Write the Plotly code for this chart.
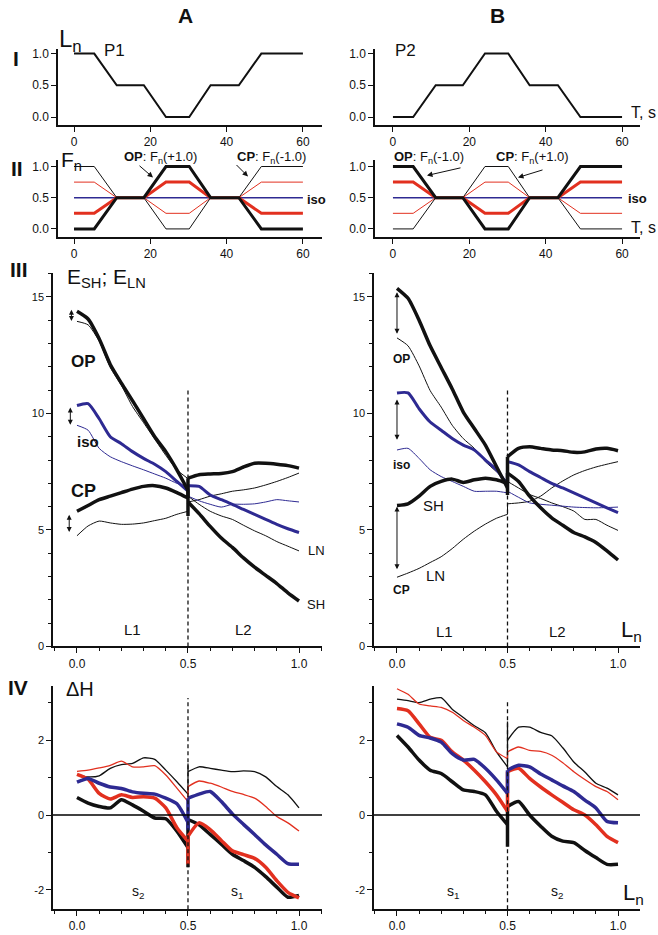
import plotly.graph_objects as go

# ---------------- data ----------------
T = [0, 5.3, 11.2, 18.3, 24.1, 30.2, 35.8, 43.2, 49.1, 60]
P1 = [1, 1, 0.5, 0.5, 0, 0, 0.5, 0.5, 1, 1]
P2 = [0, 0, 0.5, 0.5, 1, 1, 0.5, 0.5, 0, 0]

FA_thick_black = [0, 0, 0.5, 0.5, 1, 1, 0.5, 0.5, 0, 0]
FA_thin_black = [1, 1, 0.5, 0.5, 0, 0, 0.5, 0.5, 1, 1]
FA_thick_red = [0.25, 0.25, 0.5, 0.5, 0.75, 0.75, 0.5, 0.5, 0.25, 0.25]
FA_thin_red = [0.75, 0.75, 0.5, 0.5, 0.25, 0.25, 0.5, 0.5, 0.75, 0.75]
FB_thick_black = [1, 1, 0.5, 0.5, 0, 0, 0.5, 0.5, 1, 1]
FB_thin_black = [0, 0, 0.5, 0.5, 1, 1, 0.5, 0.5, 0, 0]
FB_thick_red = [0.75, 0.75, 0.5, 0.5, 0.25, 0.25, 0.5, 0.5, 0.75, 0.75]
FB_thin_red = [0.25, 0.25, 0.5, 0.5, 0.75, 0.75, 0.5, 0.5, 0.25, 0.25]
F_iso = [0.5, 0.5, 0.5, 0.5, 0.5, 0.5, 0.5, 0.5, 0.5, 0.5]

XL1 = [0, 0.05, 0.1, 0.15, 0.2, 0.25, 0.3, 0.35, 0.4, 0.45, 0.5]
XL2 = [0.5, 0.55, 0.6, 0.65, 0.7, 0.75, 0.8, 0.85, 0.9, 0.95, 1.0]

# Row III, panel A  (E_SH thick, E_LN thin)
A_OP_SH_1 = [14.38, 14.05, 13.2, 12.1, 11.3, 10.55, 9.77, 9.0, 8.36, 7.58, 6.7]
A_OP_SH_2 = [6.2, 5.7, 5.15, 4.65, 4.25, 3.8, 3.4, 3.05, 2.7, 2.3, 1.95]
A_OP_SH_spike = 5.6
A_OP_LN_1 = [13.95, 13.8, 13.1, 11.97, 11.2, 10.3, 9.6, 8.9, 8.2, 7.58, 7.2]
A_OP_LN_2 = [6.45, 6.1, 5.8, 5.6, 5.45, 5.2, 4.96, 4.75, 4.5, 4.3, 4.1]
A_CP_SH_1 = [5.8, 6.05, 6.3, 6.45, 6.6, 6.75, 6.87, 6.9, 6.8, 6.6, 6.37]
A_CP_SH_2 = [7.22, 7.37, 7.4, 7.42, 7.5, 7.7, 7.86, 7.86, 7.82, 7.76, 7.65]
A_CP_LN_1 = [4.75, 5.17, 5.38, 5.3, 5.24, 5.25, 5.3, 5.4, 5.5, 5.67, 5.8]
A_CP_LN_2 = [6.2, 6.3, 6.45, 6.55, 6.66, 6.72, 6.8, 6.93, 7.08, 7.25, 7.44]
A_ISO_SH_1 = [10.34, 10.42, 9.77, 9.0, 8.7, 8.36, 8.07, 7.82, 7.5, 7.08, 6.66]
A_ISO_SH_2 = [6.9, 6.87, 6.5, 6.3, 6.1, 5.88, 5.67, 5.45, 5.24, 5.05, 4.89]
A_ISO_LN_1 = [9.49, 9.28, 8.5, 8.14, 7.93, 7.75, 7.58, 7.4, 7.22, 7.0, 6.87]
A_ISO_LN_2 = [6.45, 6.25, 6.1, 5.98, 6.1, 6.1, 6.12, 6.2, 6.3, 6.25, 6.2]

# Row III, panel B
B_OP_SH_1 = [15.37, 14.94, 14.0, 12.9, 11.97, 11.05, 10.06, 9.35, 8.64, 7.72, 6.8]
B_OP_SH_2 = [7.44, 7.08, 6.45, 5.95, 5.52, 5.2, 4.89, 4.7, 4.46, 4.1, 3.71]
B_OP_SH_spike = 6.5
B_OP_LN_1 = [13.24, 12.9, 12.04, 10.98, 10.27, 9.49, 8.92, 8.5, 7.93, 7.5, 7.08]
B_OP_LN_2 = [7.08, 6.8, 6.52, 6.35, 6.16, 6.0, 5.81, 5.45, 5.45, 5.2, 4.98]
B_CP_SH_1 = [6.05, 6.12, 6.45, 6.87, 7.08, 7.18, 7.04, 7.15, 7.22, 7.15, 7.0]
B_CP_SH_2 = [8.14, 8.5, 8.57, 8.5, 8.43, 8.4, 8.33, 8.35, 8.47, 8.5, 8.4]
B_CP_LN_1 = [2.97, 3.15, 3.35, 3.6, 3.85, 4.2, 4.6, 4.95, 5.25, 5.5, 5.67]
B_CP_LN_2 = [6.12, 6.16, 6.23, 6.45, 6.8, 7.1, 7.36, 7.55, 7.7, 7.82, 7.93]
B_ISO_SH_1 = [10.88, 10.88, 10.2, 9.63, 9.28, 8.92, 8.64, 8.43, 8.0, 7.58, 6.94]
B_ISO_SH_2 = [7.93, 7.79, 7.5, 7.25, 7.0, 6.8, 6.59, 6.38, 6.16, 5.95, 5.74]
B_ISO_LN_1 = [8.43, 8.5, 8.07, 7.58, 7.29, 7.08, 6.87, 6.66, 6.66, 6.66, 6.59]
B_ISO_LN_2 = [6.66, 6.4, 6.16, 6.1, 6.06, 6.02, 5.98, 5.96, 5.95, 5.96, 5.98]

# Row IV, panel A (Delta H)
A_dH_thinblack_1 = [1.07, 1.02, 1.05, 1.25, 1.35, 1.38, 1.53, 1.49, 1.2, 0.89, 0.56]
A_dH_thinblack_2 = [1.16, 1.29, 1.25, 1.2, 1.16, 1.18, 1.16, 1.02, 0.76, 0.54, 0.19]
A_dH_thinblack_spike = 1.38
A_dH_thinred_1 = [1.17, 1.2, 1.26, 1.33, 1.44, 1.29, 1.29, 1.32, 1.07, 0.72, 0.36]
A_dH_thinred_2 = [0.76, 0.91, 0.85, 0.75, 0.63, 0.55, 0.45, 0.23, -0.04, -0.21, -0.43]
A_dH_blue_1 = [0.88, 0.98, 0.85, 0.75, 0.71, 0.62, 0.58, 0.56, 0.45, 0.3, -0.2]
A_dH_blue_2 = [0.45, 0.56, 0.63, 0.36, 0.03, -0.25, -0.52, -0.8, -1.05, -1.3, -1.32]
A_dH_blue_spike = -0.4
A_dH_thickred_1 = [1.09, 0.96, 0.58, 0.43, 0.54, 0.47, 0.49, 0.45, 0.19, -0.34, -0.7]
A_dH_thickred_2 = [-0.57, -0.21, -0.39, -0.68, -0.96, -1.06, -1.16, -1.4, -1.76, -2.07, -2.22]
A_dH_thickred_spike = -1.32
A_dH_thickblack_1 = [0.47, 0.32, 0.23, 0.19, 0.41, 0.27, 0.1, -0.08, -0.1, -0.43, -0.87]
A_dH_thickblack_2 = [-0.12, -0.26, -0.52, -0.78, -1.05, -1.22, -1.4, -1.65, -1.93, -2.2, -2.15]
A_dH_thickblack_spike = -1.4

# Row IV, panel B
B_dH_thinblack_1 = [3.1, 3.06, 3.01, 3.1, 3.14, 2.83, 2.61, 2.39, 2.2, 1.69, 1.29]
B_dH_thinblack_2 = [2.0, 2.35, 2.35, 2.21, 2.12, 1.8, 1.42, 1.15, 0.85, 0.72, 0.54]
B_dH_thinblack_spike = 2.5
B_dH_thinred_1 = [3.38, 3.23, 2.97, 2.92, 2.88, 2.75, 2.53, 2.35, 2.13, 1.69, 1.51]
B_dH_thinred_2 = [1.69, 1.82, 1.73, 1.7, 1.6, 1.4, 1.16, 0.95, 0.76, 0.63, 0.41]
B_dH_thickred_1 = [2.85, 2.79, 2.44, 2.08, 2.0, 1.69, 1.47, 1.2, 0.89, 0.54, 0.1]
B_dH_thickred_2 = [1.16, 1.25, 0.98, 0.75, 0.54, 0.34, 0.14, 0.0, -0.26, -0.57, -0.74]
B_dH_blue_1 = [2.44, 2.35, 2.13, 2.06, 1.95, 1.64, 1.47, 1.49, 1.25, 0.94, 0.58]
B_dH_blue_2 = [1.2, 1.33, 1.29, 1.1, 0.94, 0.78, 0.63, 0.4, 0.19, -0.17, -0.21]
B_dH_thickblack_1 = [2.13, 1.82, 1.47, 1.2, 1.11, 0.89, 0.67, 0.63, 0.54, 0.1, -0.26]
B_dH_thickblack_2 = [0.23, 0.36, 0.0, -0.3, -0.57, -0.7, -0.74, -0.95, -1.14, -1.32, -1.32]
B_dH_thickblack_spike = -0.85

# ---------------- styling ----------------
W, H = 658, 935
FONT = "Liberation Sans, Arial, sans-serif"
BLACK = "#111111"
RED = "#e2301f"
BLUE = "#2e2a92"


def px(x, y):
    return x / W, 1 - y / H


fig = go.Figure()


def add_line(xs, ys, ax, color, width, shape="linear"):
    fig.add_trace(go.Scatter(x=xs, y=ys, mode="lines", xaxis=ax[0], yaxis=ax[1],
                             line=dict(color=color, width=width, shape=shape,
                                       smoothing=0.6),
                             showlegend=False, hoverinfo="skip"))


def add_curve(ax, y1, y2, color, width, spike=None):
    add_line(XL1, y1, ax, color, width, "spline")
    add_line(XL2, y2, ax, color, width, "spline")
    jy = [y1[-1], spike, y2[0]] if spike is not None else [y1[-1], y2[0]]
    add_line([0.5] * len(jy), jy, ax, color, width)


# Row I
add_line(T, P1, ("x", "y"), BLACK, 2)
add_line(T, P2, ("x2", "y2"), BLACK, 2)

# Row II
for ax, tb, tn, rb, rn in [(("x3", "y3"), FA_thick_black, FA_thin_black, FA_thick_red, FA_thin_red),
                           (("x4", "y4"), FB_thick_black, FB_thin_black, FB_thick_red, FB_thin_red)]:
    add_line(T, tn, ax, BLACK, 1)
    add_line(T, rn, ax, RED, 1)
    add_line(T, F_iso, ax, BLUE, 1.5)
    add_line(T, rb, ax, RED, 3)
    add_line(T, tb, ax, BLACK, 3)

# Row III
axA, axB = ("x5", "y5"), ("x6", "y6")
add_curve(axA, A_OP_LN_1, A_OP_LN_2, BLACK, 1)
add_curve(axA, A_CP_LN_1, A_CP_LN_2, BLACK, 1)
add_curve(axA, A_ISO_LN_1, A_ISO_LN_2, BLUE, 1)
add_curve(axA, A_ISO_SH_1, A_ISO_SH_2, BLUE, 3)
add_curve(axA, A_CP_SH_1, A_CP_SH_2, BLACK, 3.5)
add_curve(axA, A_OP_SH_1, A_OP_SH_2, BLACK, 3.5, A_OP_SH_spike)

add_curve(axB, B_OP_LN_1, B_OP_LN_2, BLACK, 1)
add_curve(axB, B_CP_LN_1, B_CP_LN_2, BLACK, 1)
add_curve(axB, B_ISO_LN_1, B_ISO_LN_2, BLUE, 1)
add_curve(axB, B_ISO_SH_1, B_ISO_SH_2, BLUE, 3)
add_curve(axB, B_CP_SH_1, B_CP_SH_2, BLACK, 3.5)
add_curve(axB, B_OP_SH_1, B_OP_SH_2, BLACK, 3.5, B_OP_SH_spike)

# Row IV
axA4, axB4 = ("x7", "y7"), ("x8", "y8")
add_curve(axA4, A_dH_thinblack_1, A_dH_thinblack_2, BLACK, 1.3, A_dH_thinblack_spike)
add_curve(axA4, A_dH_thinred_1, A_dH_thinred_2, RED, 1.3)
add_curve(axA4, A_dH_thickblack_1, A_dH_thickblack_2, BLACK, 3.5, A_dH_thickblack_spike)
add_curve(axA4, A_dH_thickred_1, A_dH_thickred_2, RED, 3.5, A_dH_thickred_spike)
add_curve(axA4, A_dH_blue_1, A_dH_blue_2, BLUE, 3.5, A_dH_blue_spike)

add_curve(axB4, B_dH_thinblack_1, B_dH_thinblack_2, BLACK, 1.3, B_dH_thinblack_spike)
add_curve(axB4, B_dH_thinred_1, B_dH_thinred_2, RED, 1.3)
add_curve(axB4, B_dH_thickblack_1, B_dH_thickblack_2, BLACK, 3.5, B_dH_thickblack_spike)
add_curve(axB4, B_dH_thickred_1, B_dH_thickred_2, RED, 3.5)
add_curve(axB4, B_dH_blue_1, B_dH_blue_2, BLUE, 3.5)

# ---------------- axes ----------------
def dom_x(a, b):
    return [a / W, b / W]


def dom_y(top, bottom):
    return [1 - bottom / H, 1 - top / H]


TICKFONT = dict(family=FONT, size=12, color=BLACK)
TICKFONT_S = dict(family=FONT, size=11, color=BLACK)
MINOR = dict(ticks="outside", ticklen=3, tickcolor=BLACK, tickwidth=1.2)

base = dict(showline=True, linecolor=BLACK, linewidth=1.5, showgrid=False, zeroline=False,
            ticks="outside", ticklen=5, tickwidth=1.2, tickcolor=BLACK,
            tickfont=TICKFONT, fixedrange=True)

layout = dict(width=W, height=H, margin=dict(l=0, r=0, t=0, b=0),
              paper_bgcolor="white", plot_bgcolor="white", showlegend=False,
              font=dict(family=FONT, color=BLACK))

colA12, colB12 = dom_x(58, 322), dom_x(375, 640)
colA34, colB34 = dom_x(53, 322), dom_x(374, 640)
rI, rII, rIII, rIV = dom_y(47, 124), dom_y(159, 237), dom_y(273, 650), dom_y(690, 915)

xT = dict(tickvals=[0, 20, 40, 60], ticktext=["0", "20", "40", "60"])
yF = dict(tickvals=[0, 0.5, 1.0], ticktext=["0.0", "0.5", "1.0"])
xL = dict(tickvals=[0, 0.5, 1.0], ticktext=["0.0", "0.5", "1.0"],
          minor=dict(MINOR, dtick=0.1, tick0=0))
yE = dict(tickvals=[0, 5, 10, 15], ticktext=["0", "5", "10", "15"], tickfont=TICKFONT_S,
          minor=dict(MINOR, dtick=1, tick0=0))
yH = dict(tickvals=[-2, 0, 2], ticktext=["-2", "0", "2"], tickfont=TICKFONT_S,
          minor=dict(MINOR, dtick=1, tick0=0))

axes = [
    ("", colA12, rI, [-4.2, 65], [-0.125, 1.078], xT, yF),
    ("2", colB12, rI, [-4.7, 64.7], [-0.125, 1.078], xT, yF),
    ("3", colA12, rII, [-4.2, 65], [-0.129, 1.11], xT, yF),
    ("4", colB12, rII, [-4.7, 64.7], [-0.129, 1.11], xT, yF),
    ("5", colA34, rIII, [-0.108, 1.1036], [0, 16.04], xL, yE),
    ("6", colB34, rIII, [-0.104, 1.0995], [0, 16.04], xL, yE),
    ("7", colA34, rIV, [-0.108, 1.1036], [-2.52, 3.45], xL, yH),
    ("8", colB34, rIV, [-0.104, 1.0995], [-2.52, 3.45], xL, yH),
]
for suf, dx, dy, xr, yr, xt, yt in axes:
    xa = dict(base, domain=dx, range=xr, anchor="y" + suf)
    xa.update(xt)
    ya = dict(base, domain=dy, range=yr, anchor="x" + suf)
    ya.update(yt)
    layout["xaxis" + suf] = xa
    layout["yaxis" + suf] = ya

fig.update_layout(**layout)

# ---------------- reference lines ----------------
shapes = []
for xr_, yr_, ytop in [("x5", "y5", 11), ("x6", "y6", 11), ("x7", "y7", 3.13), ("x8", "y8", 3.1)]:
    ylow = 0 if yr_ in ("y5", "y6") else -2.52
    shapes.append(dict(type="line", xref=xr_, yref=yr_, x0=0.5, x1=0.5, y0=ylow, y1=ytop,
                       line=dict(color=BLACK, width=1.3, dash="4px,3px")))
for xr_, yr_ in [("x7", "y7"), ("x8", "y8")]:
    shapes.append(dict(type="line", xref=xr_ + " domain", yref=yr_, x0=0, x1=1, y0=0, y1=0,
                       line=dict(color="#000000", width=1.4)))
fig.update_layout(shapes=shapes)

# ---------------- annotations ----------------
ann = []


def text(x, y, s, size=13, bold=False, xanchor="center"):
    xp, yp = px(x, y)
    if bold:
        s = "<b>" + s + "</b>"
    ann.append(dict(x=xp, y=yp, xref="paper", yref="paper", text=s, showarrow=False,
                    xanchor=xanchor, yanchor="middle",
                    font=dict(family=FONT, size=size, color=BLACK)))


def arrow_px(hx, hy, tx, ty):
    xp, yp = px(hx, hy)
    ann.append(dict(x=xp, y=yp, xref="paper", yref="paper", text="", showarrow=True,
                    ax=tx - hx, ay=ty - hy, arrowhead=2, arrowsize=1.1, arrowwidth=1,
                    arrowcolor=BLACK))


def darrow(xa, ya, x, y0, y1):
    ann.append(dict(x=x, y=y1, xref=xa, yref=ya, ax=x, ay=y0, axref=xa, ayref=ya,
                    text="", showarrow=True, arrowhead=2, arrowside="end+start",
                    arrowsize=1, arrowwidth=1, arrowcolor=BLACK))


text(185, 14, "A", 21, True)
text(497, 14, "B", 21, True)
text(16, 57, "I", 21, True)
text(17, 168, "II", 21, True)
text(19, 270, "III", 21, True)
text(18, 691, "IV", 21, True)

text(70, 39, "L<sub>n</sub>", 24)
text(114, 49, "P1", 17)
text(405, 49, "P2", 17)
text(643, 111, "T, s", 16)

text(71, 160, "F<sub>n</sub>", 21)
text(316, 199, "iso", 13, True)
text(637, 198, "iso", 13, True)
text(643, 227, "T, s", 16)
text(160, 157, "<b>OP</b>: F<sub>n</sub>(+1.0)", 13)
text(271, 157, "<b>CP</b>: F<sub>n</sub>(-1.0)", 13)
text(429, 157, "<b>OP</b>: F<sub>n</sub>(-1.0)", 13)
text(532, 157, "<b>CP</b>: F<sub>n</sub>(+1.0)", 13)
arrow_px(153, 177, 138, 164)
arrow_px(248, 176, 235, 163)
arrow_px(427, 175, 462, 167)
arrow_px(518, 177, 544, 169)

# Row III labels
text(106, 278, "E<sub>SH</sub>; E<sub>LN</sub>", 21)
text(83, 363, "OP", 17, True)
text(88, 443, "iso", 15, True)
text(83, 493, "CP", 18, True)
text(316, 553, "LN", 13)
text(316, 608, "SH", 13)
text(132, 633, "L1", 15)
text(243, 633, "L2", 15)
darrow("x5", "y5", -0.025, 13.9, 14.45)
darrow("x5", "y5", -0.03, 9.45, 10.25)
darrow("x5", "y5", -0.035, 4.85, 5.65)

text(402, 360, "OP", 12, True)
text(402, 467, "iso", 12, True)
text(433, 508, "SH", 15)
text(435, 578, "LN", 15)
text(401, 593, "CP", 12, True)
text(444, 635, "L1", 15)
text(557, 635, "L2", 15)
text(631, 634, "L<sub>n</sub>", 22)
darrow("x6", "y6", 0.0, 13.35, 15.2)
darrow("x6", "y6", 0.0, 8.8, 10.6)
darrow("x6", "y6", 0.0, 3.25, 6.0)

# Row IV labels
text(80, 693, "ΔH", 20)
text(138, 898, "s<sub>2</sub>", 14)
text(237, 898, "s<sub>1</sub>", 14)
text(453, 898, "s<sub>1</sub>", 14)
text(557, 898, "s<sub>2</sub>", 14)
text(633, 900, "L<sub>n</sub>", 22)

fig.update_layout(annotations=ann)

fig.write_html("out.html")
